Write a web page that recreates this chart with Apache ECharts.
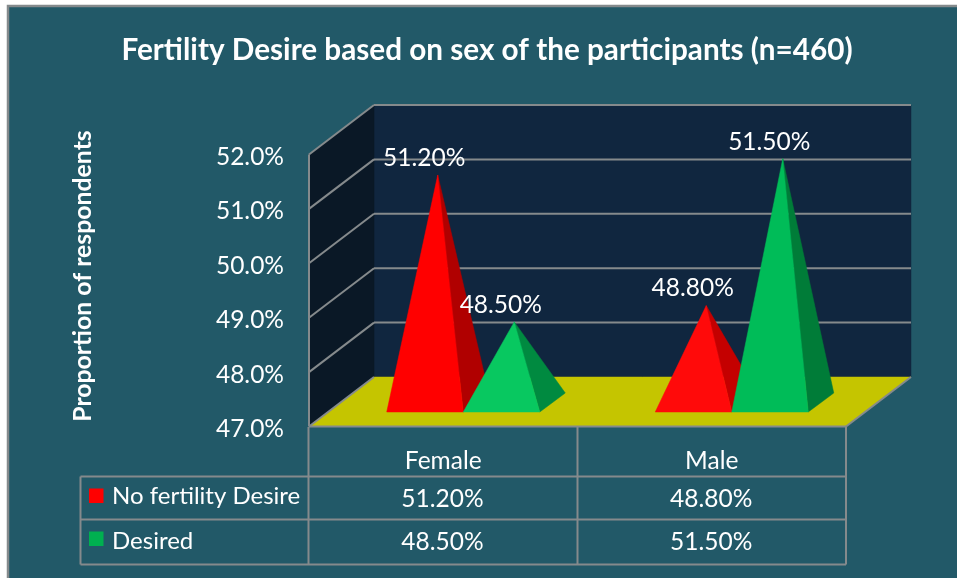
<!DOCTYPE html>
<html>
<head>
<meta charset="utf-8">
<style>html,body{margin:0;padding:0;background:#fff}#c{width:957px;height:578px}</style>
<script src="https://cdn.jsdelivr.net/npm/echarts@6/dist/echarts.min.js"></script>
</head>
<body>
<div id="c"></div>
<script>
const categories = ['Female', 'Male'];
const noDesire = [51.2, 48.8];
const desired = [48.5, 51.5];
const yTicks = [47, 48, 49, 50, 51, 52];
const seriesNames = ['No fertility Desire', 'Desired'];
const titleText = 'Fertility Desire based on sex of the participants (n=460)';
const yTitle = 'Proportion of respondents';

const FONT = 'Lato, "Open Sans", sans-serif';
const LINE = '#858a8c', BG = '#225968';
const WALL_DX = 65, WALL_DY = -49.5;
const DEPTH_DX = 25.5, DEPTH_DY = -19;
const fmt = v => v.toFixed(2) + '%';

function line(x1, y1, x2, y2) {
  return { type: 'line', silent: true, shape: { x1, y1, x2, y2 }, style: { stroke: LINE, lineWidth: 2 } };
}
function poly(points, fill) {
  return { type: 'polygon', silent: true, shape: { points }, style: { fill, stroke: fill, lineWidth: 0.5 } };
}

function renderFrame(params, api) {
  const tick = api.value(0);
  const [x0, y0] = api.coord([0, tick]);
  const left = x0 - api.size([1, 0])[0] / 2;
  const right = left + api.size([1, 0])[0] * categories.length;
  const kids = [];
  if (params.dataIndex === 0) {
    const top = api.coord([0, yTicks[yTicks.length - 1]])[1];
    kids.push(poly([[left + WALL_DX, top + WALL_DY], [right + WALL_DX, top + WALL_DY], [right + WALL_DX, y0 + WALL_DY], [left + WALL_DX, y0 + WALL_DY]], '#10263f'));
    kids.push(poly([[left, top], [left + WALL_DX, top + WALL_DY], [left + WALL_DX, y0 + WALL_DY], [left, y0]], '#0a1826'));
    kids.push(poly([[left, y0], [left + WALL_DX, y0 + WALL_DY], [right + WALL_DX, y0 + WALL_DY], [right, y0]], '#c5c500'));
    kids.push(line(left, top, left, y0));
    kids.push(line(left, y0, right, y0));
    kids.push(line(right, y0, right + WALL_DX, y0 + WALL_DY));
    kids.push(line(left, y0, left + WALL_DX, y0 + WALL_DY));
  } else {
    kids.push(line(left, y0, left + WALL_DX, y0 + WALL_DY));
    kids.push(line(left + WALL_DX, y0 + WALL_DY, right + WALL_DX, y0 + WALL_DY));
  }
  return { type: 'group', children: kids };
}

function pyramidRenderer(side, shades) {
  return function (params, api) {
    const cat = api.value(0), val = api.value(1);
    const band = api.size([1, 0])[0];
    const w = band * 0.285;
    const [cx, apexY0] = api.coord([cat, val]);
    const baseY0 = api.coord([cat, yTicks[0]])[1];
    const mid = cx + 20 + side * w / 2;
    const l = mid - w / 2, r = mid + w / 2;
    const fy = baseY0 - 14.5;
    const ax = mid + DEPTH_DX / 2, ay = apexY0 - 23;
    const c = shades[params.dataIndex];
    return {
      type: 'group',
      children: [
        poly([[r, fy], [r + DEPTH_DX, fy + DEPTH_DY], [ax, ay]], c[1]),
        poly([[l, fy], [r, fy], [ax, ay]], c[0]),
        { type: 'text', silent: true, z2: 50,
          style: { text: fmt(val), x: ax - 13.5, y: ay - 17, fill: '#fff', font: '24.5px ' + FONT, textAlign: 'center', textVerticalAlign: 'middle' } }
      ]
    };
  };
}

// data table: built from the value arrays
const tableGraphic = [];
const V = [308.5, 577.5, 846], H = [476.5, 519.5, 564.5], TL = 80.5;
function gLine(x1, y1, x2, y2) {
  tableGraphic.push({ type: 'line', silent: true, z: 3, shape: { x1, y1, x2, y2 }, style: { stroke: LINE, lineWidth: 2 } });
}
V.forEach(x => gLine(x, 427, x, H[2]));
H.forEach(y => gLine(TL, y, V[2], y));
gLine(TL, H[0], TL, H[2]);
function gText(text, x, y, align, extra) {
  tableGraphic.push({ type: 'text', silent: true, z: 4, x, y,
    style: Object.assign({ text, fill: '#fff', font: '24.5px ' + FONT, textAlign: align, textVerticalAlign: 'middle' }, extra || {}) });
}
[[noDesire, '#ff0000', 498], [desired, '#00b050', 541]].forEach((row, i) => {
  const y = row[2];
  tableGraphic.push({ type: 'rect', silent: true, z: 4, shape: { x: 89, y: y - 9.5, width: 14.5, height: 14.5 }, style: { fill: row[1] } });
  gText(seriesNames[i], 112, y - (i ? 0 : 2), 'left', { font: '24px ' + FONT });
  row[0].forEach((v, j) => gText(fmt(v), (V[j] + V[j + 1]) / 2 - 0.5, y + 1, 'center'));
});
gText(titleText, 487, 50, 'center', { font: 'bold 29.7px ' + FONT });
tableGraphic.push({ type: 'text', silent: true, z: 4, x: 83, y: 276, rotation: Math.PI / 2,
  style: { text: yTitle, fill: '#fff', font: 'bold 24.8px ' + FONT, textAlign: 'center', textVerticalAlign: 'middle' } });

const option = {
  animation: false,
  backgroundColor: '#ffffff',
  graphic: [
    { type: 'rect', silent: true, z: -10, shape: { x: 8, y: 6, width: 960, height: 590 },
      style: { fill: BG, stroke: LINE, lineWidth: 2.5 } },
    ...tableGraphic
  ],
  grid: { left: 309, top: 154.5, width: 537, height: 272 },
  xAxis: {
    type: 'category', data: categories,
    axisLine: { show: false }, axisTick: { show: false },
    axisLabel: { color: '#fff', fontSize: 24.5, fontFamily: FONT, margin: 22 }
  },
  yAxis: {
    type: 'value', min: 47, max: 52, interval: 1,
    axisLine: { show: false }, axisTick: { show: false }, splitLine: { show: false },
    axisLabel: { color: '#fff', fontSize: 24.5, fontFamily: FONT, margin: 25, verticalAlign: 'top', lineHeight: 5, formatter: v => v.toFixed(1) + '%' }
  },
  series: [
    { type: 'custom', name: 'frame', z: 1, silent: true, clip: false,
      encode: { y: 0 }, data: yTicks.map(t => [t]), renderItem: renderFrame },
    { type: 'custom', name: seriesNames[0], z: 2, silent: true, clip: false,
      encode: { x: 0, y: 1 }, data: noDesire.map((v, i) => [i, v]),
      renderItem: pyramidRenderer(-1, [['#ff0000', '#b00000'], ['#ff0a0a', '#c40000']]) },
    { type: 'custom', name: seriesNames[1], z: 3, silent: true, clip: false,
      encode: { x: 0, y: 1 }, data: desired.map((v, i) => [i, v]),
      renderItem: pyramidRenderer(1, [['#08c860', '#008a40'], ['#00bc58', '#007c38']]) }
  ]
};
echarts.init(document.getElementById('c')).setOption(option);
</script>
</body>
</html>
